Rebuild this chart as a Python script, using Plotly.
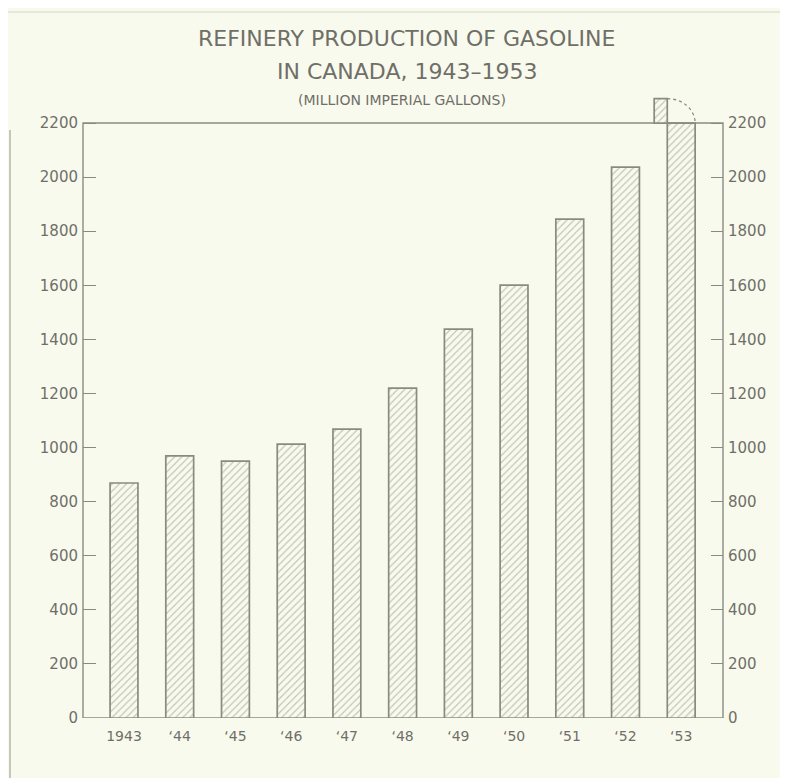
import plotly.graph_objects as go

years = ["1943", "‘44", "‘45", "‘46", "‘47", "‘48", "‘49", "‘50", "‘51", "‘52", "‘53"]
production = [869, 969, 950, 1013, 1068, 1220, 1438, 1601, 1845, 2037, 2290]
scale_top = 2200
tick_values = list(range(0, 2201, 200))

BG = "#f9faee"
INK = "#6f6f68"
LINE = "#8a8a82"
HATCH = "#8e8e84"

OFF = 8  # page body margin
W, H = 780, 770
L, R, T, B = 75, 65, 88, 60

xs = list(range(len(years)))
clipped = [min(v, scale_top) for v in production]
over_x = [i for i, v in enumerate(production) if v > scale_top]
over_y = [production[i] - scale_top for i in over_x]

pattern = dict(shape="/", fgcolor=HATCH, bgcolor=BG, size=5, solidity=0.24)

fig = go.Figure()
fig.add_trace(go.Bar(
    x=xs, y=clipped, width=0.5,
    marker=dict(color=BG, line=dict(color=LINE, width=1.7), pattern=pattern),
    hoverinfo="skip", showlegend=False,
))
fig.add_trace(go.Bar(
    x=over_x, y=over_y, base=[scale_top] * len(over_x), width=0.235, offset=-0.485,
    marker=dict(color=BG, line=dict(color=LINE, width=1.7), pattern=pattern),
    hoverinfo="skip", showlegend=False,
))
fig.add_trace(go.Scatter(x=[0], y=[0], yaxis="y2", mode="markers",
                         marker=dict(opacity=0), hoverinfo="skip", showlegend=False))

def py(pix):
    return (H - B - (pix - OFF)) / (H - T - B)

def px(pix):
    return (pix - OFF - L) / (W - L - R)

# frame
fig.add_shape(type="rect", xref="paper", yref="y", x0=0, x1=1, y0=0, y1=scale_top,
              line=dict(color=LINE, width=1.4), fillcolor="rgba(0,0,0,0)", layer="below")

# dotted fold arc for the overflowing bar
for i in over_x:
    cx = i - 0.25
    cy = scale_top
    rx = 0.5
    ry = production[i] - scale_top
    k = 0.5523
    path = (f"M {cx},{cy + ry} C {cx + k * rx},{cy + ry} {cx + rx},{cy + k * ry} {cx + rx},{cy}")
    fig.add_shape(type="path", path=path, xref="x", yref="y",
                  line=dict(color=LINE, width=1.3, dash="dot"))

# faint scan-edge lines
fig.add_shape(type="line", xref="paper", yref="paper", x0=px(10), x1=px(10), y0=py(130), y1=py(778),
              line=dict(color="#b5b6aa", width=1.5))
fig.add_shape(type="line", xref="paper", yref="paper", x0=px(8), x1=px(788), y0=py(12), y1=py(12),
              line=dict(color="#d3d4c6", width=1.2))

title_font = dict(family="DejaVu Sans", size=22, color=INK)
fig.add_annotation(text="REFINERY PRODUCTION OF GASOLINE", xref="paper", yref="paper",
                   x=px(406), y=py(39), yanchor="middle", showarrow=False, font=title_font)
fig.add_annotation(text="IN CANADA, 1943–1953", xref="paper", yref="paper",
                   x=px(407), y=py(71), yanchor="middle", showarrow=False, font=title_font)
fig.add_annotation(text="(MILLION IMPERIAL GALLONS)", xref="paper", yref="paper",
                   x=px(402), y=py(100), yanchor="middle", showarrow=False,
                   font=dict(family="DejaVu Sans", size=14, color=INK))

axis_font = dict(family="DejaVu Sans", size=15, color=INK)

fig.update_layout(
    width=W, height=H,
    margin=dict(l=L, r=R, t=T, b=B),
    paper_bgcolor=BG, plot_bgcolor=BG,
    bargap=0.5,
    xaxis=dict(
        range=[-0.736, 10.75], tickmode="array", tickvals=xs, ticktext=years,
        showgrid=False, zeroline=False, showline=False, ticks="",
        tickfont=dict(family="DejaVu Sans", size=14, color=INK), ticklabelstandoff=8,
        fixedrange=True,
    ),
    yaxis=dict(
        range=[0, 2300], tickmode="array", tickvals=tick_values,
        showgrid=False, zeroline=False, showline=False,
        ticks="inside", ticklen=13, tickcolor=LINE, tickwidth=1.2,
        tickfont=axis_font, ticklabelstandoff=4,
    ),
    yaxis2=dict(
        range=[0, 2300], tickmode="array", tickvals=tick_values, overlaying="y", side="right",
        anchor="x", showgrid=False, zeroline=False, showline=False,
        ticks="inside", ticklen=12, tickcolor=LINE, tickwidth=1.2,
        tickfont=axis_font, ticklabelstandoff=4,
    ),
)

fig.write_html("out.html")
